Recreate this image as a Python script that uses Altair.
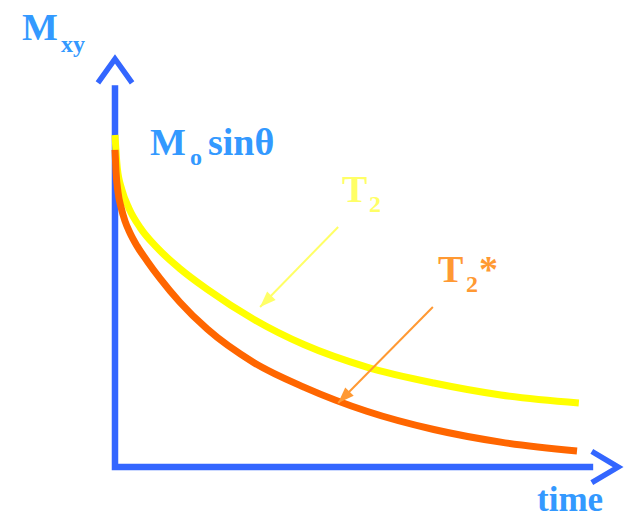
import altair as alt
import pandas as pd

# Transverse magnetisation M_xy after the pulse (time in arbitrary units,
# magnetisation relative to M0 sin(theta))
t_T2 = [0, 0.05, 0.15, 0.3, 0.55, 0.9, 1.4, 2.0, 3.0, 4.1, 5.45, 6.9, 8.35, 10.04]
m_T2 = [1.0, 0.90, 0.835, 0.78, 0.72, 0.662, 0.598, 0.535, 0.445, 0.368, 0.301, 0.253, 0.217, 0.193]

t_T2s = [0, 0.022, 0.065, 0.13, 0.216, 0.325, 0.476, 0.714, 0.974, 1.4, 2.0,
         3.0, 4.1, 5.45, 6.9, 8.35, 10.0]
m_T2s = [0.955, 0.889, 0.828, 0.783, 0.741, 0.705, 0.666, 0.617, 0.568, 0.497, 0.415,
         0.315, 0.24, 0.168, 0.113, 0.075, 0.048]

# Axis frame (y arm, origin, x arm) and the two arrowhead chevrons
frame_t = [0, 0, 10.35]
frame_m = [1.15, 0, 0]
ychev_t = [-0.37, 0, 0.37]
ychev_m = [1.157, 1.229, 1.157]
xchev_t = [10.32, 10.89, 10.32]
xchev_m = [0.047, 0, -0.047]

# Pointer arrows from the labels to the curves: (t_from, m_from, t_to, m_to)
ptr_T2 = [4.83, 0.723, 3.14, 0.482]
ptr_T2s = [6.88, 0.482, 4.83, 0.193]

X_DOMAIN = [-2.489, 11.082]
Y_DOMAIN = [-0.1596, 1.4066]

AXIS_BLUE = "#3366FF"
TEXT_BLUE = "#3399FF"
SERIF = "Liberation Serif"

xs = alt.Scale(domain=X_DOMAIN, nice=False, zero=False)
ys = alt.Scale(domain=Y_DOMAIN, nice=False, zero=False)


def X(field="t"):
    return alt.X(field, type="quantitative", scale=xs, axis=None)


def Y(field="m"):
    return alt.Y(field, type="quantitative", scale=ys, axis=None)


def path_layer(ts, ms, color, width):
    df = pd.DataFrame({"t": ts, "m": ms, "k": list(range(len(ts)))})
    return alt.Chart(df).mark_line(
        color=color, strokeWidth=width, strokeJoin="miter", strokeCap="butt"
    ).encode(x=X(), y=Y(), order="k:Q")


def curve_layer(ts, ms, color):
    df = pd.DataFrame({"t": ts, "m": ms})
    return alt.Chart(df).mark_line(
        color=color, strokeWidth=7, interpolate="monotone", strokeCap="butt"
    ).encode(x=X(), y=Y())


def pointer_layers(seg, color):
    df = pd.DataFrame([{"t": seg[0], "m": seg[1], "t2": seg[2], "m2": seg[3]}])
    shaft = alt.Chart(df).mark_rule(color=color, strokeWidth=2).encode(
        x=X(), y=Y(), x2="t2", y2="m2"
    )
    head = alt.Chart(df).mark_point(
        shape="M0,0L-0.75,2L0.75,2Z", filled=True, size=256, angle=225,
        color=color, opacity=1, strokeWidth=0,
    ).encode(x=X("t2"), y=Y("m2"))
    return [shaft, head]


def text_layer(text, t, m, color, size):
    df = pd.DataFrame([{"t": t, "m": m, "label": text}])
    return alt.Chart(df).mark_text(
        align="left", baseline="alphabetic", font=SERIF, fontWeight="bold",
        fontSize=size, color=color,
    ).encode(x=X(), y=Y(), text="label:N")


layers = [
    path_layer(frame_t, frame_m, AXIS_BLUE, 6.5),
    path_layer(ychev_t, ychev_m, AXIS_BLUE, 5.5),
    path_layer(xchev_t, xchev_m, AXIS_BLUE, 5.5),
    curve_layer(t_T2, m_T2, "#FFFF00"),
    curve_layer(t_T2s, m_T2s, "#FF6600"),
    *pointer_layers(ptr_T2, "#FFFF66"),
    *pointer_layers(ptr_T2s, "#FF9933"),
    text_layer("M", -2.013, 1.286, TEXT_BLUE, 38),
    text_layer("xy", -1.169, 1.250, TEXT_BLUE, 24),
    text_layer("M", 0.758, 0.940, TEXT_BLUE, 38),
    text_layer("o", 1.623, 0.910, TEXT_BLUE, 24),
    text_layer("sinθ", 2.013, 0.940, TEXT_BLUE, 38),
    text_layer("T", 4.913, 0.798, "#FFFF66", 38),
    text_layer("2", 5.498, 0.768, "#FFFF66", 24),
    text_layer("T", 6.991, 0.557, "#FF9933", 38),
    text_layer("2", 7.597, 0.527, "#FF9933", 24),
    text_layer("*", 7.879, 0.557, "#FF9933", 38),
    text_layer("time", 9.134, -0.1325, TEXT_BLUE, 35),
]

chart = alt.layer(*layers).properties(
    width=627,
    height=520,
    padding=0,
    autosize=alt.AutoSizeParams(type="none"),
    background="white",
).configure_view(stroke=None)

chart.save("out.html", embed_options={"renderer": "svg", "actions": False})
